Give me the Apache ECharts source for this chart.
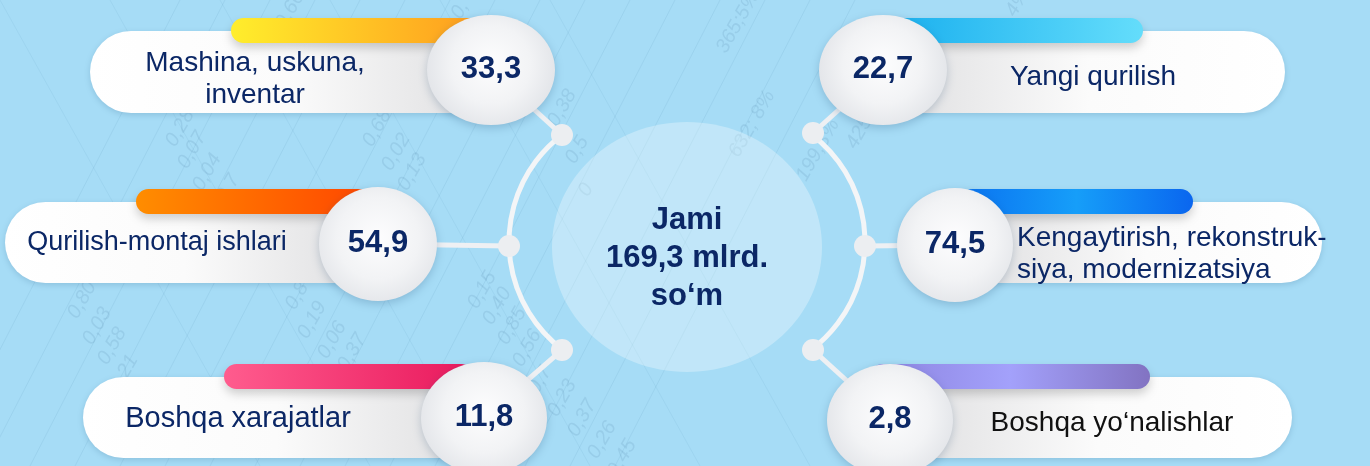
<!DOCTYPE html>
<html>
<head>
<meta charset="utf-8">
<script src="https://cdn.jsdelivr.net/npm/echarts@6/dist/echarts.min.js"></script>
<style>
  html, body { margin: 0; padding: 0; background: #a6dcf6; }
  #chart { width: 1370px; height: 466px; }
</style>
</head>
<body>
<div id="chart"></div>
<script>
// data
const CATEGORIES = [
  "Mashina, uskuna,\ninventar",
  "Qurilish-montaj ishlari",
  "Boshqa xarajatlar",
  "Yangi qurilish",
  "Kengaytirish, rekonstruk-\nsiya, modernizatsiya",
  "Boshqa yo‘nalishlar",
];
const VALUES = [33.3, 54.9, 11.8, 22.7, 74.5, 2.8];
const TOTAL = 169.3;
const TOTAL_LABEL = ["Jami", "mlrd.", "so‘m"];

const FONT = '"Liberation Sans", Arial, sans-serif';
const NAVY = "#0b2766";
const BG = "#a6dcf6";

// layout of each slot (side: -1 left column, 1 right column)
const SLOTS = [
  { side: -1, pill: [90, 31, 440, 82], bar: [231, 18, 262, 25], bubble: [491, 70, 64, 55], label: [255, 79, "center", 28], node: [562, 135] },
  { side: -1, pill: [5, 202, 400, 81], bar: [136, 189, 236, 25], bubble: [378, 244, 59, 57], label: [157, 243, "center", 27], node: [509, 246] },
  { side: -1, pill: [83, 377, 430, 81], bar: [224, 364, 250, 25], bubble: [484, 418, 63, 56], label: [238, 419, "center", 29], node: [562, 350] },
  { side: 1, pill: [850, 31, 435, 82], bar: [880, 18, 263, 25], bubble: [883, 70, 64, 55], label: [1093, 77, "center", 28], node: [813, 133] },
  { side: 1, pill: [930, 202, 392, 81], bar: [960, 189, 233, 25], bubble: [955, 245, 58, 57], label: [1017, 254, "left", 28], node: [865, 246] },
  { side: 1, pill: [860, 377, 432, 81], bar: [870, 364, 280, 25], bubble: [890, 420, 63, 56], label: [1112, 423, "center", 28], node: [813, 350] },
];
const BAR_COLORS = [
  ["#ffee2c", "#ff981d"],
  ["#ff8d00", "#ff4600"],
  ["#ff5c8e", "#e9185c"],
  ["#17aeee", "#64ddfb"],
  ["#0a72f0", "#169ef9", "#0a66ef"],
  ["#8c83df", "#a3a1fb", "#8273c2"],
];
const LABEL_COLORS = [NAVY, NAVY, NAVY, NAVY, NAVY, "#111111"];

// faint background watermark
const WATERMARK = [
  ["0,28", 180, 128], ["0,07", 192, 150], ["0,04", 207, 172], ["0,7", 228, 188],
  ["0,68", 377, 128], ["0,02", 396, 152], ["0,13", 412, 172], ["0,38", 562, 108],
  ["0,5", 577, 150], ["0", 586, 190], ["0,15", 482, 290], ["0,40", 497, 306],
  ["0,85", 512, 326], ["0,56", 527, 348], ["0,7", 540, 380], ["0,23", 562, 398],
  ["0,37", 582, 418], ["0,26", 602, 440], ["0,45", 622, 458], ["0,80", 82, 300],
  ["0,03", 97, 326], ["0,58", 112, 346], ["21", 128, 366], ["0,8", 297, 296],
  ["0,19", 312, 320], ["0,06", 332, 340], ["0,37", 352, 352], ["0,66", 290, 10],
  ["365;5%", 738, 22], ["632; 8%", 752, 124], ["199,3%", 818, 150], ["0; 4%", 1012, 12],
  ["4251", 862, 128], ["0,", 245, 250], ["0,", 460, 10],
];

function fmt(v) {
  return v.toFixed(1).replace(".", ",");
}

function renderItem(params, api) {
  const i = params.dataIndex;
  const s = SLOTS[i];
  const value = api.value(1);
  const [px, py, pw, ph] = s.pill;
  const [bx, by, bw, bh] = s.bar;
  const [cx, cy, rx, ry] = s.bubble;
  const cols = BAR_COLORS[i];
  const stops = cols.map((c, k) => ({ offset: k / (cols.length - 1), color: c }));
  const pillStops = s.side < 0
    ? [{ offset: 0, color: "#ffffff" }, { offset: 0.45, color: "#fbfbfb" }, { offset: 1, color: "#d9d9db" }]
    : [{ offset: 0, color: "#d9d9db" }, { offset: 0.55, color: "#fbfbfb" }, { offset: 1, color: "#ffffff" }];

  return {
    type: "group",
    children: [
      {
        type: "line",
        shape: { x1: s.node[0], y1: s.node[1], x2: cx, y2: cy },
        style: { stroke: "#eef0f3", lineWidth: 5 },
      },
      {
        type: "circle",
        shape: { cx: s.node[0], cy: s.node[1], r: 11 },
        style: { fill: "#eceef1" },
      },
      {
        type: "rect",
        shape: { x: px, y: py, width: pw, height: ph, r: ph / 2 },
        style: {
          fill: new echarts.graphic.LinearGradient(0, 0, 1, 0, pillStops),
          shadowBlur: 6, shadowColor: "rgba(20,70,110,0.18)", shadowOffsetY: 2,
        },
      },
      {
        type: "rect",
        shape: { x: bx, y: by, width: bw, height: bh, r: bh / 2 },
        style: {
          fill: new echarts.graphic.LinearGradient(0, 0, 1, 0, stops),
          shadowBlur: 10, shadowColor: "rgba(0,0,0,0.18)", shadowOffsetY: 5,
        },
      },
      {
        type: "ellipse",
        shape: { cx: cx, cy: cy, rx: rx, ry: ry },
        style: {
          fill: new echarts.graphic.RadialGradient(0.5, 0.45, 0.6, [
            { offset: 0, color: "#fdfdfe" },
            { offset: 0.6, color: "#f2f3f5" },
            { offset: 1, color: "#e3e5e9" },
          ]),
          shadowBlur: 10, shadowColor: "rgba(20,60,100,0.22)", shadowOffsetY: 3,
        },
      },
      {
        type: "text",
        style: {
          text: fmt(value), x: cx, y: cy - 1,
          fill: NAVY, font: "bold 31px " + FONT,
          align: "center", verticalAlign: "middle",
        },
      },
      {
        type: "text",
        style: {
          text: CATEGORIES[i], x: s.label[0], y: s.label[1],
          fill: LABEL_COLORS[i], font: s.label[3] + "px " + FONT, lineHeight: 32,
          align: s.label[2], verticalAlign: "middle",
        },
      },
    ],
  };
}

const chart = echarts.init(document.getElementById("chart"), null, { renderer: "canvas" });

const graphics = [
  { type: "rect", shape: { x: 0, y: 0, width: 1370, height: 466 }, style: { fill: BG }, z: -10 },
];
// faint diagonal grid lines of the background
for (let k = 0; k < 16; k++) {
  graphics.push({
    type: "line", z: -9,
    shape: { x1: -60 + k * 45, y1: 466, x2: 60 + k * 45 + 120, y2: 0 },
    style: { stroke: "rgba(70,130,170,0.10)", lineWidth: 1 },
  });
}
for (let k = 0; k < 6; k++) {
  graphics.push({
    type: "line", z: -9,
    shape: { x1: k * 110, y1: 0, x2: k * 110 + 260, y2: 466 },
    style: { stroke: "rgba(70,130,170,0.08)", lineWidth: 1 },
  });
}
WATERMARK.forEach(([t, x, y]) => {
  graphics.push({
    type: "text", z: -8, x: x, y: y, rotation: 1.05,
    style: { text: t, fill: "rgba(60,110,150,0.13)", font: "italic 20px " + FONT, align: "center", verticalAlign: "middle" },
  });
});
graphics.push(
  {
    type: "arc", z: -5,
    shape: { cx: 644, cy: 242, r: 135, startAngle: 127 * Math.PI / 180, endAngle: 233 * Math.PI / 180, clockwise: true },
    style: { stroke: "#f3f5f7", lineWidth: 5, fill: null },
  },
  {
    type: "arc", z: -5,
    shape: { cx: 730, cy: 242, r: 135, startAngle: -53 * Math.PI / 180, endAngle: 53 * Math.PI / 180, clockwise: true },
    style: { stroke: "#f3f5f7", lineWidth: 5, fill: null },
  },
  {
    type: "ellipse", z: -4,
    shape: { cx: 687, cy: 247, rx: 135, ry: 125 },
    style: { fill: "rgba(255,255,255,0.3)" },
  },
  {
    type: "text", z: -3, x: 687, y: 258,
    style: {
      text: TOTAL_LABEL[0] + "\n" + fmt(TOTAL) + " " + TOTAL_LABEL[1] + "\n" + TOTAL_LABEL[2],
      fill: NAVY, font: "bold 31px " + FONT, lineHeight: 38,
      align: "center", verticalAlign: "middle",
    },
  }
);

chart.setOption({
  animation: false,
  graphic: { elements: graphics },
  series: [
    {
      type: "custom",
      coordinateSystem: "none",
      renderItem: renderItem,
      data: VALUES.map((v, i) => [i, v]),
    },
  ],
});
</script>
</body>
</html>
